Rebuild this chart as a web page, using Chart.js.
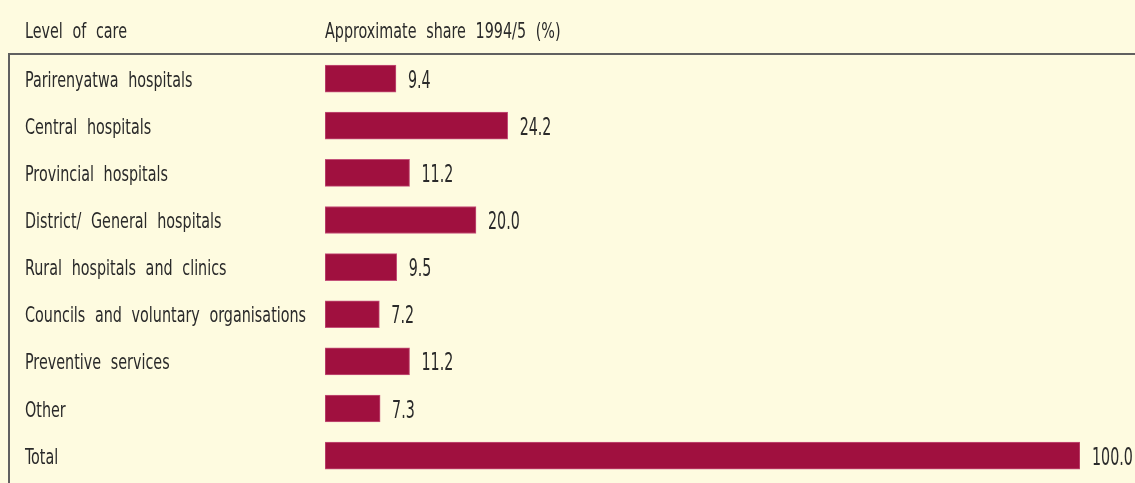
<!DOCTYPE html>
<html>
<head>
<meta charset="utf-8">
<script src="https://cdn.jsdelivr.net/npm/chart.js@4/dist/chart.umd.min.js"></script>
<style>
  html, body { margin: 0; padding: 0; background: #FEFBE0; }
  #wrap { position: relative; width: 1135px; height: 483px; }
</style>
</head>
<body>
<div id="wrap"><canvas id="c" width="1135" height="483"></canvas></div>
<script>
const categories = [
  "Parirenyatwa hospitals",
  "Central hospitals",
  "Provincial hospitals",
  "District/ General hospitals",
  "Rural hospitals and clinics",
  "Councils and voluntary organisations",
  "Preventive services",
  "Other",
  "Total"
];
const shares = [9.4, 24.2, 11.2, 20.0, 9.5, 7.2, 11.2, 7.3, 100.0];
const headerLabels = ["Level of care", "Approximate share 1994/5 (%)"];

const FONT = '"DejaVu Sans Condensed", "Liberation Sans Narrow", "DejaVu Sans", sans-serif';
const TEXT = '#2a2a2a';
const BAR = '#A0103F';
const LABEL_X = 25;

function squeezedText(ctx, str, x, y, sx) {
  ctx.save();
  ctx.translate(x, y);
  ctx.scale(sx, 1);
  ctx.fillText(str, 0, 0);
  ctx.restore();
}

function setFont(ctx, size) {
  ctx.font = size + 'px ' + FONT;
  ctx.textBaseline = 'alphabetic';
  ctx.textAlign = 'left';
  if ('wordSpacing' in ctx) ctx.wordSpacing = '7px';
}

const decor = {
  id: 'decor',
  beforeDraw(chart) {
    const ctx = chart.ctx;
    ctx.save();
    ctx.fillStyle = '#FEFBE0';
    ctx.fillRect(0, 0, chart.width, chart.height);
    // box border (top and left edges visible)
    ctx.strokeStyle = '#606060';
    ctx.lineWidth = 2;
    ctx.beginPath();
    ctx.moveTo(1140, 54);
    ctx.lineTo(9, 54);
    ctx.lineTo(9, 490);
    ctx.stroke();
    ctx.fillStyle = TEXT;
    setFont(ctx, 22);
    // column headers
    squeezedText(ctx, headerLabels[0], LABEL_X, 37.5, 0.725);
    squeezedText(ctx, headerLabels[1], chart.chartArea.left, 37.5, 0.725);
    // category labels
    const y = chart.scales.y;
    categories.forEach((c, i) => {
      squeezedText(ctx, c, LABEL_X, y.getPixelForTick(i) + 8, 0.725);
    });
    ctx.restore();
  },
  afterDatasetsDraw(chart) {
    const ctx = chart.ctx;
    const meta = chart.getDatasetMeta(0);
    ctx.save();
    ctx.fillStyle = TEXT;
    setFont(ctx, 24);
    meta.data.forEach((bar, i) => {
      squeezedText(ctx, shares[i].toFixed(1), bar.x + 12, bar.y + 9, 0.66);
    });
    ctx.restore();
  }
};

new Chart(document.getElementById('c'), {
  type: 'bar',
  data: {
    labels: categories,
    datasets: [{
      data: shares,
      backgroundColor: BAR,
      borderColor: '#C4527A',
      borderWidth: 1,
      borderSkipped: false,
      barThickness: 27
    }]
  },
  options: {
    indexAxis: 'y',
    responsive: false,
    animation: false,
    layout: { padding: { left: 325, right: 55, top: 55, bottom: 3.8 } },
    plugins: { legend: { display: false }, tooltip: { enabled: false } },
    scales: {
      x: { display: false, min: 0, max: 100 },
      y: { display: false }
    }
  },
  plugins: [decor]
});
</script>
</body>
</html>
